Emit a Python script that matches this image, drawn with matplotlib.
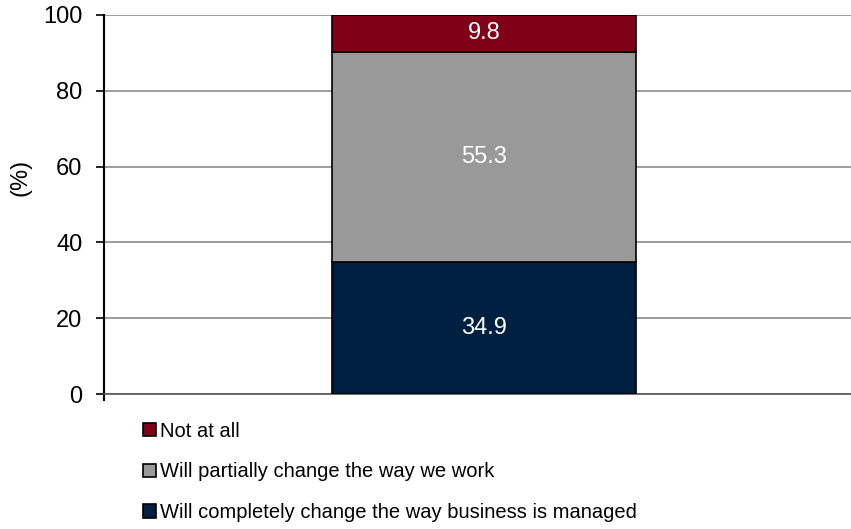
import matplotlib.pyplot as plt
from matplotlib.patches import Patch

plt.rcParams["font.family"] = ["Liberation Sans", "DejaVu Sans"]

# stacked from bottom to top
SERIES = ["Will completely change the way business is managed",
          "Will partially change the way we work",
          "Not at all"]
VALUES = [34.9, 55.3, 9.8]
COLORS = ["#002042", "#999999", "#800018"]
YTICKS = [0, 20, 40, 60, 80, 100]

FS = 17

fig = plt.figure(figsize=(8.51, 5.29), dpi=100)
ax = fig.add_axes([0.122, 0.255, 0.878, 0.717])

w = 0.5
bottom = 0.0
for name, v, c in zip(SERIES, VALUES, COLORS):
    ax.bar(0, v, width=w, bottom=bottom, color=c, edgecolor="black", linewidth=1.2, zorder=3)
    ax.text(0, bottom + v / 2, f"{v:.1f}", ha="center", va="center",
            color="white", fontsize=FS, zorder=4)
    bottom += v

ax.set_xlim(-0.625, 0.6035)
ax.set_ylim(0, 100)
ax.set_yticks(YTICKS)
ax.tick_params(axis="y", labelsize=FS, length=5.5, width=1.2, direction="out", pad=10)
ax.set_xticks([])
ax.grid(axis="y", color="#8c8c8c", linewidth=1.2, zorder=0)
for s in ["top", "right"]:
    ax.spines[s].set_visible(False)
ax.spines["left"].set_linewidth(1.5)
ax.spines["left"].set_bounds(-1.6, 100)
ax.spines["bottom"].set_linewidth(1.2)
ax.spines["bottom"].set_color("#555555")
ax.set_ylabel("(%)", fontsize=FS)
ax.yaxis.set_label_coords(-0.097, 0.57)

handles = [Patch(facecolor=c, edgecolor="black", linewidth=1.2) for c in COLORS[::-1]]
fig.legend(handles, SERIES[::-1], loc="upper left", bbox_to_anchor=(0.168, 0.203),
           frameon=False, fontsize=14.5, handlelength=0.65, handleheight=0.65,
           handletextpad=0.2, labelspacing=1.08, borderaxespad=0, borderpad=0)

fig.savefig("out.png", dpi=100)
